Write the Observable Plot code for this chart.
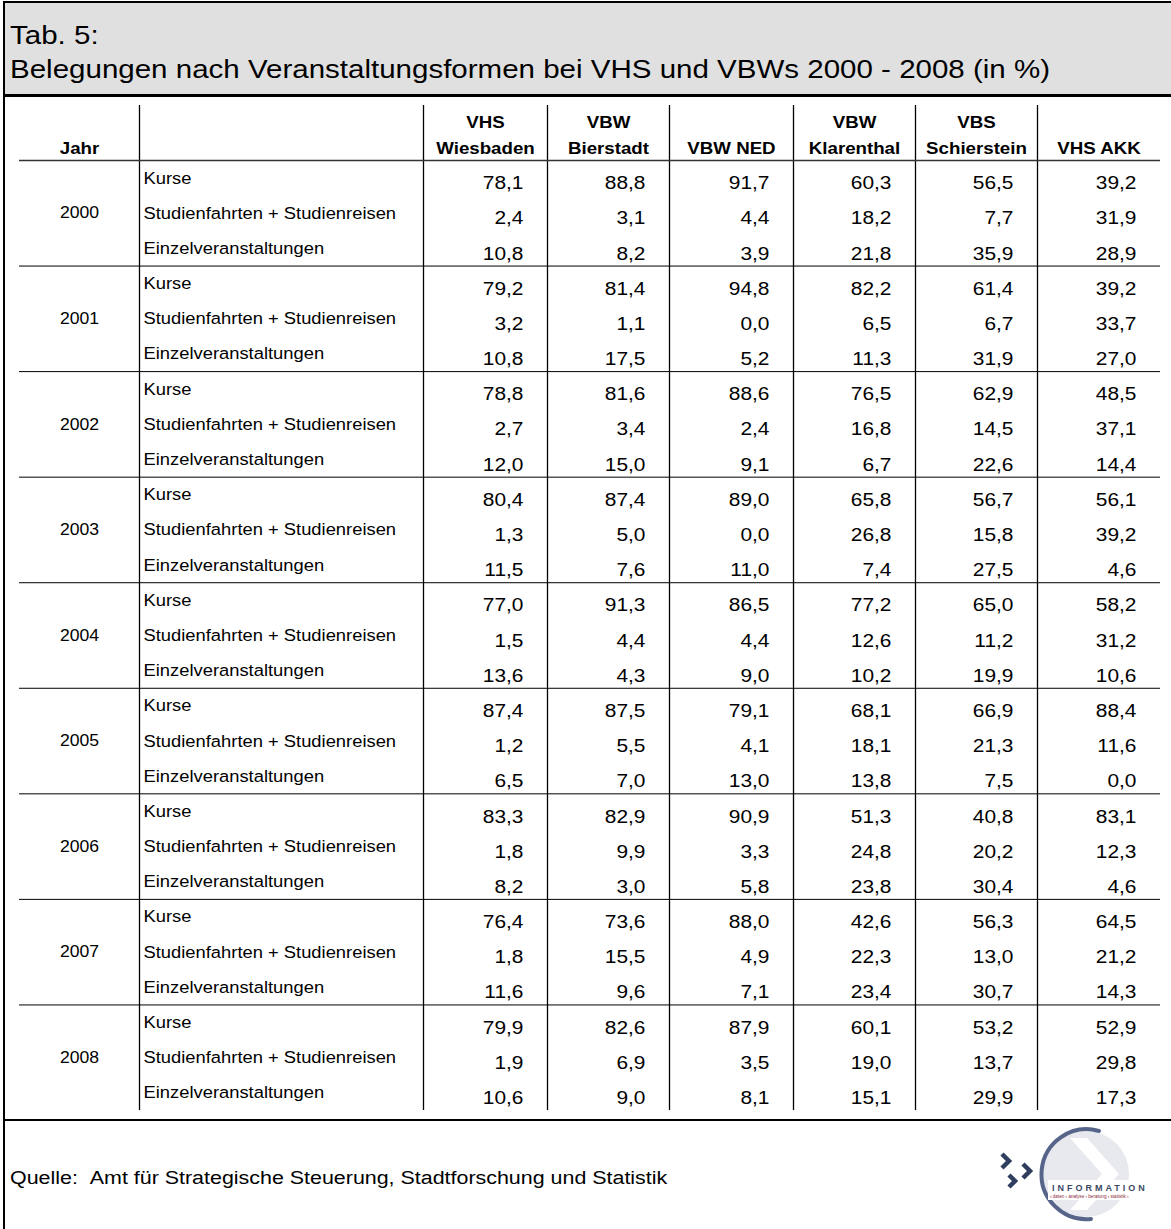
<!DOCTYPE html>
<html>
<head>
<meta charset="utf-8">
<script src="https://cdn.jsdelivr.net/npm/d3@7"></script>
<script src="https://cdn.jsdelivr.net/npm/@observablehq/plot@0.6"></script>
<style>
  html, body { margin: 0; padding: 0; background: #fff; }
  body { width: 1171px; height: 1229px; position: relative; overflow: hidden; font-family: "Liberation Sans", Arial, sans-serif; }
  #frame { position: absolute; left: 3px; top: 1px; width: 1250px; height: 1300px; border-left: 2px solid #000; border-top: 2px solid #000; }
  #titlebox { position: absolute; left: 5px; top: 3px; width: 1166px; height: 91px; background: #e0e0e0; border-bottom: 3px solid #000; }
  #title { position: absolute; left: 5px; top: 15px; font-size: 26px; line-height: 34px; color: #000; white-space: pre; transform: scaleX(1.135); transform-origin: 0 0; }
  #chart { position: absolute; left: 0; top: 97px; }
  #tablebottom { position: absolute; left: 5px; top: 1119px; width: 1166px; height: 0; border-top: 2px solid #000; }
  #source { position: absolute; left: 10px; top: 1167px; font-size: 18px; line-height: 22px; color: #000; white-space: nowrap; transform: scaleX(1.19); transform-origin: 0 0; }
  #logo { position: absolute; left: 990px; top: 1122px; }
</style>
</head>
<body>
<div id="frame"></div>
<div id="titlebox"><div id="title">Tab. 5:
Belegungen nach Veranstaltungsformen bei VHS und VBWs 2000 - 2008 (in %)</div></div>
<div id="chart"></div>
<div id="tablebottom"></div>
<div id="source">Quelle: &nbsp;Amt für Strategische Steuerung, Stadtforschung und Statistik</div>
<svg id="logo" width="181" height="107" viewBox="0 0 181 107">
  <circle cx="96" cy="52" r="43" fill="#e8e9ee"/>
  <path d="M80 16 L112 52 L80 88 L97 88 L129 52 L97 16 Z" fill="#ffffff"/>
  <path d="M109 9 A45 45 0 1 0 101 97" fill="none" stroke="#56648a" stroke-width="4" stroke-linecap="round"/>
  <path d="M12 32 L19 39 L12 46" fill="none" stroke="#2f3d5e" stroke-width="4.5"/>
  <path d="M33 42 L40 49 L33 56" fill="none" stroke="#2f3d5e" stroke-width="4.5"/>
  <path d="M19 53 L25 59 L19 65" fill="none" stroke="#2f3d5e" stroke-width="4.5"/>
  <rect x="58" y="58" width="116" height="20" fill="#ffffff"/>
  <text x="62" y="69" font-family="Liberation Sans, Arial, sans-serif" font-weight="bold" font-size="9" letter-spacing="3" fill="#3b4866">INFORMATION</text>
  <text x="60" y="76" font-family="Liberation Sans, Arial, sans-serif" font-size="4.6" fill="#8c2a3a">› daten › analyse › beratung › statistik ›</text>
</svg>
<script>
// ---- data ----
const years = [2000, 2001, 2002, 2003, 2004, 2005, 2006, 2007, 2008];
const categories = ["Kurse", "Studienfahrten + Studienreisen", "Einzelveranstaltungen"];
const headerLine1 = ["VHS", "VBW", "", "VBW", "VBS", ""];
const headerLine2 = ["Wiesbaden", "Bierstadt", "VBW NED", "Klarenthal", "Schierstein", "VHS AKK"];
const vhsWiesbaden   = [78.1, 2.4, 10.8, 79.2, 3.2, 10.8, 78.8, 2.7, 12.0, 80.4, 1.3, 11.5, 77.0, 1.5, 13.6, 87.4, 1.2, 6.5, 83.3, 1.8, 8.2, 76.4, 1.8, 11.6, 79.9, 1.9, 10.6];
const vbwBierstadt   = [88.8, 3.1, 8.2, 81.4, 1.1, 17.5, 81.6, 3.4, 15.0, 87.4, 5.0, 7.6, 91.3, 4.4, 4.3, 87.5, 5.5, 7.0, 82.9, 9.9, 3.0, 73.6, 15.5, 9.6, 82.6, 6.9, 9.0];
const vbwNED         = [91.7, 4.4, 3.9, 94.8, 0.0, 5.2, 88.6, 2.4, 9.1, 89.0, 0.0, 11.0, 86.5, 4.4, 9.0, 79.1, 4.1, 13.0, 90.9, 3.3, 5.8, 88.0, 4.9, 7.1, 87.9, 3.5, 8.1];
const vbwKlarenthal  = [60.3, 18.2, 21.8, 82.2, 6.5, 11.3, 76.5, 16.8, 6.7, 65.8, 26.8, 7.4, 77.2, 12.6, 10.2, 68.1, 18.1, 13.8, 51.3, 24.8, 23.8, 42.6, 22.3, 23.4, 60.1, 19.0, 15.1];
const vbsSchierstein = [56.5, 7.7, 35.9, 61.4, 6.7, 31.9, 62.9, 14.5, 22.6, 56.7, 15.8, 27.5, 65.0, 11.2, 19.9, 66.9, 21.3, 7.5, 40.8, 20.2, 30.4, 56.3, 13.0, 30.7, 53.2, 13.7, 29.9];
const vhsAKK         = [39.2, 31.9, 28.9, 39.2, 33.7, 27.0, 48.5, 37.1, 14.4, 56.1, 39.2, 4.6, 58.2, 31.2, 10.6, 88.4, 11.6, 0.0, 83.1, 12.3, 4.6, 64.5, 21.2, 14.3, 52.9, 29.8, 17.3];
const series = [vhsWiesbaden, vbwBierstadt, vbwNED, vbwKlarenthal, vbsSchierstein, vhsAKK];

// ---- layout (not data) ----
const colEdges = [19, 139, 423, 547, 669, 793, 915, 1037, 1160];
const headerRows = 1.563;
const nRows = years.length * categories.length;
const fmt = d3.formatLocale({decimal: ",", thousands: ".", grouping: [3], currency: ["", ""]}).format(".1f");
const font = "Liberation Sans, Arial, sans-serif";

const rows = d3.range(nRows).map(i => ({i, year: years[Math.floor(i / 3)], cat: categories[i % 3]}));
const cells = [];
series.forEach((s, c) => s.forEach((v, i) => cells.push({c, i, v})));
const dataRight = c => colEdges[c + 3] - 24;
const dataCenter = c => (colEdges[c + 2] + colEdges[c + 3]) / 2;

const chart = Plot.plot({
  width: 1171,
  height: 1022,
  margin: 0,
  x: {type: "linear", domain: [0, 1171], range: [0, 1171], axis: null},
  y: {type: "linear", domain: [-headerRows, nRows], range: [8, 1013], axis: null},
  style: {fontFamily: font, color: "#000", background: "transparent", overflow: "visible"},
  marks: [
    Plot.ruleX(colEdges.slice(1, -1), {x: d => d, y1: -headerRows, y2: nRows, stroke: "#000", strokeWidth: 1.3}),
    Plot.ruleY([0], {y: d => d, x1: colEdges[0], x2: colEdges[colEdges.length - 1], stroke: "#333", strokeWidth: 1.6}),
    Plot.ruleY(d3.range(1, years.length).map(k => k * 3), {y: d => d, x1: colEdges[0], x2: colEdges[colEdges.length - 1], stroke: "#000", strokeWidth: 1}),
    Plot.text(["Jahr"], {x: (colEdges[0] + colEdges[1]) / 2, y: 0, dy: -12, text: d => d, fontSize: 17, fontWeight: "bold", lineAnchor: "middle", className: "sx110"}),
    Plot.text(headerLine2, {x: (d, c) => dataCenter(c), y: 0, dy: -12, text: d => d, fontSize: 17, fontWeight: "bold", lineAnchor: "middle", className: "sx110"}),
    Plot.text(headerLine1, {x: (d, c) => dataCenter(c), y: 0, dy: -38, text: d => d, fontSize: 17, fontWeight: "bold", lineAnchor: "middle", className: "sx110"}),
    Plot.text(years, {x: (colEdges[0] + colEdges[1]) / 2, y: (d, k) => k * 3 + 1.5, text: d => String(d), fontSize: 16, lineAnchor: "middle", className: "sx110"}),
    Plot.text(rows, {x: colEdges[1] + 4, y: d => d.i + 0.5, text: "cat", fontSize: 17, textAnchor: "start", lineAnchor: "middle", className: "sx108"}),
    Plot.text(cells, {x: d => dataRight(d.c), y: d => d.i + 0.5, dy: 5, text: d => fmt(d.v), fontSize: 19, textAnchor: "end", lineAnchor: "middle", className: "sx110"})
  ]
});
// horizontal stretch of glyphs, as in the reference rendering
const stretch = {sx110: 1.1, sx108: 1.08};
for (const [cls, s] of Object.entries(stretch)) {
  chart.querySelectorAll(`g.${cls} text`).forEach(t => {
    const tr = t.getAttribute("transform") || "";
    t.setAttribute("transform", `${tr} scale(${s},1)`);
  });
}
document.getElementById("chart").appendChild(chart);
</script>
</body>
</html>
